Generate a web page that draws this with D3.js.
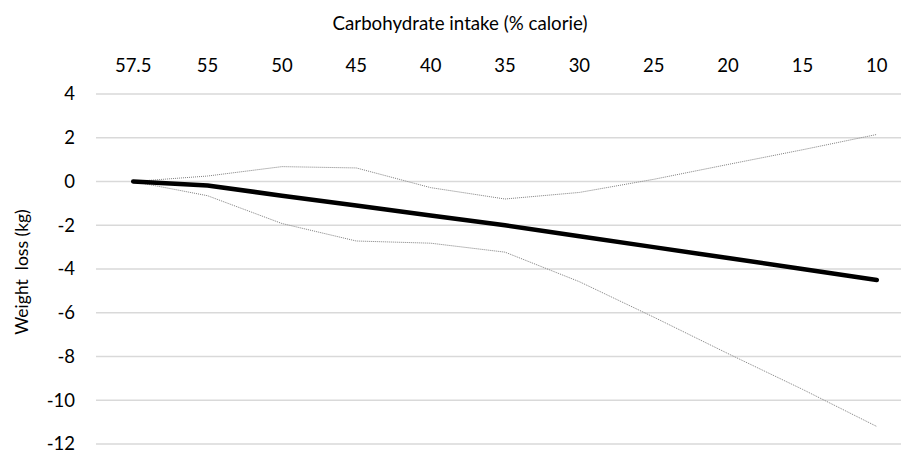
<!DOCTYPE html>
<html><head><meta charset="utf-8">
<script src="https://cdn.jsdelivr.net/npm/d3@7"></script>
<style>body{margin:0;background:#fff}svg{display:block}</style>
</head><body>
<svg id="c" width="901" height="450"></svg>
<script>
const categories = ["57.5","55","50","45","40","35","30","25","20","15","10"];
const meanLoss  = [0,-0.18,-0.65,-1.1,-1.55,-2.0,-2.5,-3.0,-3.5,-4.0,-4.5];
const upperLoss = [0,0.25,0.68,0.62,-0.28,-0.8,-0.5,0.1,0.78,1.45,2.15];
const lowerLoss = [0,-0.65,-1.92,-2.72,-2.82,-3.23,-4.58,-6.2,-7.87,-9.5,-11.2];
const yTicks = [4,2,0,-2,-4,-6,-8,-10,-12];

const svg = d3.select("#c");
const font = "Lato, 'Open Sans', sans-serif";
const x = d3.scaleBand().domain(categories).range([96,914]);
const y = d3.scaleLinear().domain([-12,4]).range([444,94]);
const cx = c => x(c) + x.bandwidth()/2;

// gridlines
svg.append("g").selectAll("line").data(yTicks).join("line")
  .attr("x1",96).attr("x2",914)
  .attr("y1",d=>y(d)).attr("y2",d=>y(d))
  .attr("stroke","#d9d9d9").attr("stroke-width",1.3);

// y axis labels
const yAxis = d3.axisLeft(y).tickValues(yTicks).tickSize(0).tickPadding(0).tickFormat(d3.format("d"));
const gy = svg.append("g").attr("transform","translate(75,0)").call(yAxis);
gy.select(".domain").remove();
gy.selectAll("text").attr("font-family",font).attr("font-size",18.5).attr("fill","#000").text(d=>d<0?"-"+Math.abs(d):d);

// x axis on top
const xAxis = d3.axisTop(x).tickSize(0).tickPadding(0);
const gx = svg.append("g").attr("transform","translate(0,72)").call(xAxis);
gx.select(".domain").remove();
gx.selectAll("text").attr("font-family",font).attr("font-size",18.5).attr("fill","#000");

// titles
svg.append("text").attr("x",460).attr("y",30).attr("text-anchor","middle")
  .attr("font-family",font).attr("font-size",18.7).attr("fill","#000")
  .text("Carbohydrate intake (% calorie)");
svg.append("text").attr("transform","translate(28,272) rotate(-90)").attr("text-anchor","middle")
  .attr("font-family",font).attr("font-size",17.5).attr("fill","#000")
  .attr("xml:space","preserve").style("white-space","pre")
  .text("Weight  loss (kg)");

const line = d3.line().x((d,i)=>cx(categories[i])).y(d=>y(d));
[upperLoss, lowerLoss].forEach(s=>{
  svg.append("path").attr("d",line(s)).attr("fill","none")
    .attr("stroke","#7f7f7f").attr("stroke-width",1).attr("stroke-dasharray","1,1");
});
svg.append("path").attr("d",line(meanLoss)).attr("fill","none")
  .attr("stroke","#000").attr("stroke-width",4.5).attr("stroke-linecap","round").attr("stroke-linejoin","round");
</script>
</body></html>
